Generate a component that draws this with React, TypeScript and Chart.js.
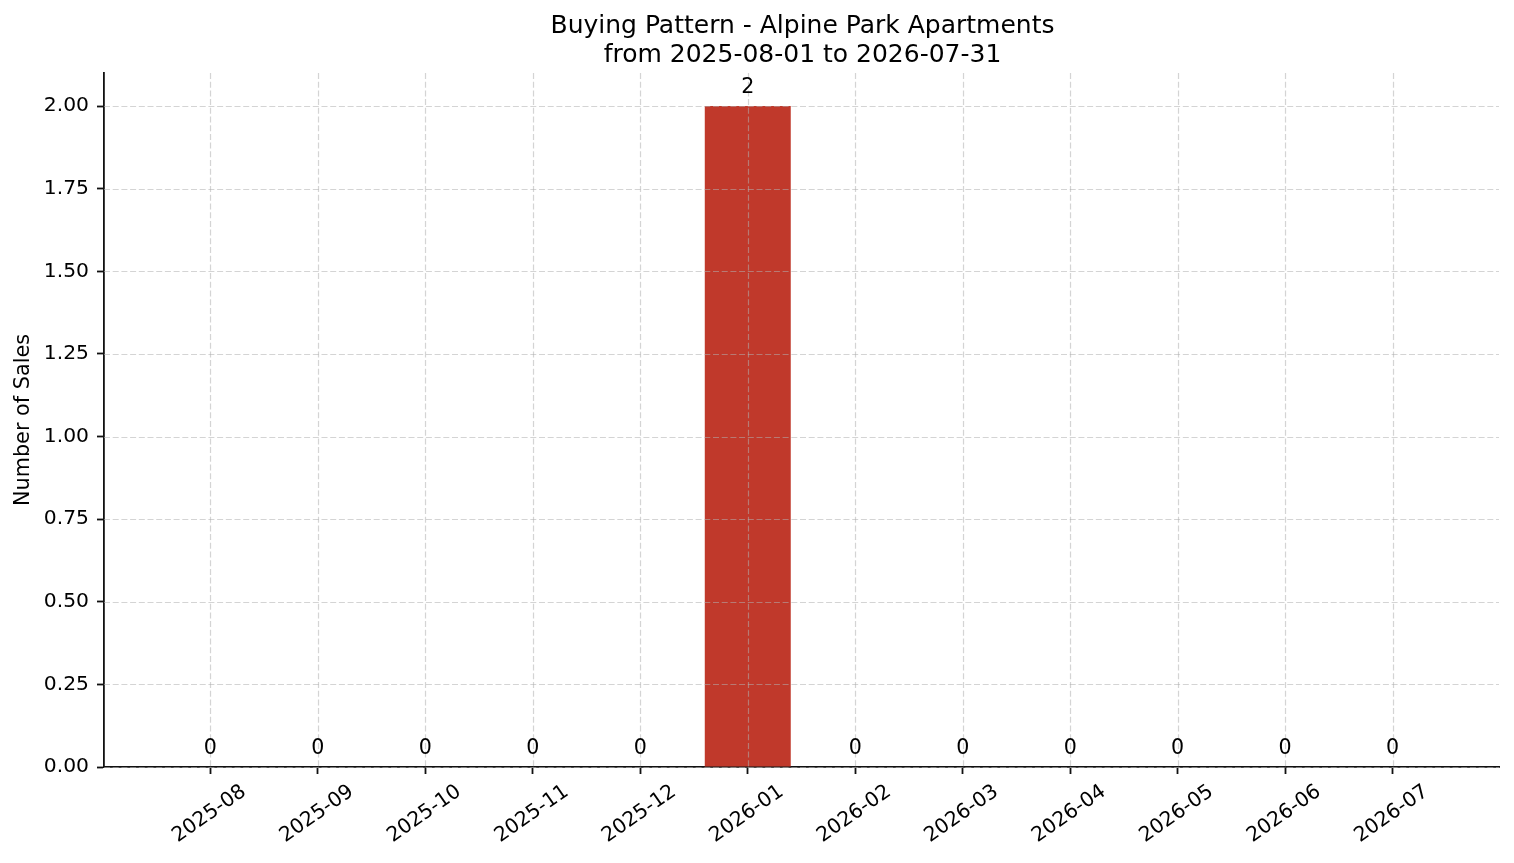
import React, { useEffect, useRef } from "react";
import { Chart, registerables } from "chart.js";

Chart.register(...registerables);

const MONTHS = [
  "2025-08", "2025-09", "2025-10", "2025-11", "2025-12", "2026-01",
  "2026-02", "2026-03", "2026-04", "2026-05", "2026-06", "2026-07",
];
const SALES = [0, 0, 0, 0, 0, 2, 0, 0, 0, 0, 0, 0];
const Y_TICKS = [0, 0.25, 0.5, 0.75, 1.0, 1.25, 1.5, 1.75, 2.0];
const TITLE_LINES = [
  "Buying Pattern - Alpine Park Apartments",
  "from 2025-08-01 to 2026-07-31",
];
const Y_LABEL = "Number of Sales";

const W = 1514;
const H = 863;
const FONT = "'DejaVu Sans', 'Liberation Sans', sans-serif";
const BAR_COLOR = "#C0392B";
const GRID_COLOR = "rgba(176,176,176,0.55)";
const SPINE_COLOR = "#111111";
const TICK_SIZE = 20.3;
const VALUE_SIZE = 20.6;
const TITLE_SIZE = 25;

const overlayPlugin = {
  id: "overlay",
  afterDatasetsDraw(chart: any) {
    const { ctx, chartArea, scales } = chart;
    const xs = scales.x;
    const ys = scales.y;
    ctx.save();
    ctx.strokeStyle = GRID_COLOR;
    ctx.lineWidth = 1.2;
    ctx.setLineDash([6, 2.7]);
    xs.ticks.forEach((t: any) => {
      const px = Math.round(xs.getPixelForValue(t.value)) + 0.5;
      ctx.beginPath();
      ctx.moveTo(px, chartArea.top);
      ctx.lineTo(px, chartArea.bottom);
      ctx.stroke();
    });
    ys.ticks.forEach((t: any) => {
      const py = Math.round(ys.getPixelForValue(t.value)) + 0.5;
      ctx.beginPath();
      ctx.moveTo(chartArea.left, py);
      ctx.lineTo(chartArea.right, py);
      ctx.stroke();
    });
    ctx.setLineDash([]);

    // value labels
    const meta = chart.getDatasetMeta(0);
    ctx.fillStyle = "#000";
    ctx.font = `${VALUE_SIZE}px ${FONT}`;
    ctx.textAlign = "center";
    ctx.textBaseline = "alphabetic";
    meta.data.forEach((el: any, i: number) => {
      ctx.fillText(String(SALES[i]), el.x, el.y - 13);
    });
    ctx.restore();
  },
  afterDraw(chart: any) {
    const { ctx, chartArea, scales } = chart;
    const xs = scales.x;
    ctx.save();
    // title
    ctx.fillStyle = "#000";
    ctx.font = `${TITLE_SIZE}px ${FONT}`;
    ctx.textAlign = "center";
    ctx.textBaseline = "alphabetic";
    const cx = (chartArea.left + chartArea.right) / 2 + 1;
    ctx.fillText(TITLE_LINES[0], cx, 33);
    ctx.fillText(TITLE_LINES[1], cx, 62);

    // rotated x tick labels, centered under ticks
    ctx.font = `${TICK_SIZE}px ${FONT}`;
    ctx.textBaseline = "middle";
    ctx.textAlign = "center";
    const ang = (35 * Math.PI) / 180;
    xs.ticks.forEach((t: any) => {
      const label = MONTHS[t.value];
      if (label === undefined) return;
      const px = xs.getPixelForValue(t.value);
      ctx.save();
      ctx.translate(px - 1, chartArea.bottom + 47);
      ctx.rotate(-ang);
      ctx.fillText(label, 0, 0);
      ctx.restore();
    });
    ctx.restore();
  },
};

export default function App() {
  const ref = useRef<HTMLCanvasElement | null>(null);

  useEffect(() => {
    document.body.style.margin = "0";
    const canvas = ref.current;
    if (!canvas) return;
    const chart = new Chart(canvas, {
      type: "bar",
      data: {
        datasets: [
          {
            data: SALES.map((v, i) => ({ x: i, y: v })),
            backgroundColor: BAR_COLOR,
            borderWidth: 0,
            barPercentage: 0.8,
            categoryPercentage: 1.0,
          },
        ],
      },
      options: {
        animation: false,
        responsive: false,
        devicePixelRatio: 1,
        layout: { padding: { top: 73, right: 15, bottom: 0, left: 0 } },
        plugins: {
          legend: { display: false },
          title: { display: false },
          tooltip: { enabled: false },
        },
        scales: {
          x: {
            type: "linear",
            min: -0.99,
            max: 11.99,
            offset: false,
            z: 1,
            afterBuildTicks: (s: any) => {
              s.ticks = MONTHS.map((_, i) => ({ value: i }));
            },
            afterFit: (s: any) => {
              s.height = 96;
            },
            ticks: { display: false },
            grid: {
              offset: false,
              drawOnChartArea: false,
              drawTicks: true,
              tickLength: 7,
              tickColor: SPINE_COLOR,
              tickWidth: 1.8,
            },
            border: { display: true, color: SPINE_COLOR, width: 1.8 },
          },
          y: {
            type: "linear",
            min: 0,
            max: 2.1,
            z: 1,
            afterBuildTicks: (s: any) => {
              s.ticks = Y_TICKS.map((v) => ({ value: v }));
            },
            afterFit: (s: any) => {
              s.width = 104;
            },
            ticks: {
              color: "#000",
              font: { family: FONT, size: TICK_SIZE },
              padding: 8,
              callback: (v: any) => Number(v).toFixed(2),
            },
            grid: {
              drawOnChartArea: false,
              drawTicks: true,
              tickLength: 7,
              tickColor: SPINE_COLOR,
              tickWidth: 1.8,
            },
            border: { display: true, color: SPINE_COLOR, width: 1.8 },
            title: {
              display: true,
              text: Y_LABEL,
              color: "#000",
              font: { family: FONT, size: 20.8, lineHeight: 1.2 },
              padding: { top: 11, bottom: 0 },
            },
          },
        },
      },
      plugins: [overlayPlugin],
    } as any);
    return () => chart.destroy();
  }, []);

  return (
    <div style={{ width: W, height: H, background: "#fff" }}>
      <canvas ref={ref} width={W} height={H} style={{ display: "block" }} />
    </div>
  );
}
